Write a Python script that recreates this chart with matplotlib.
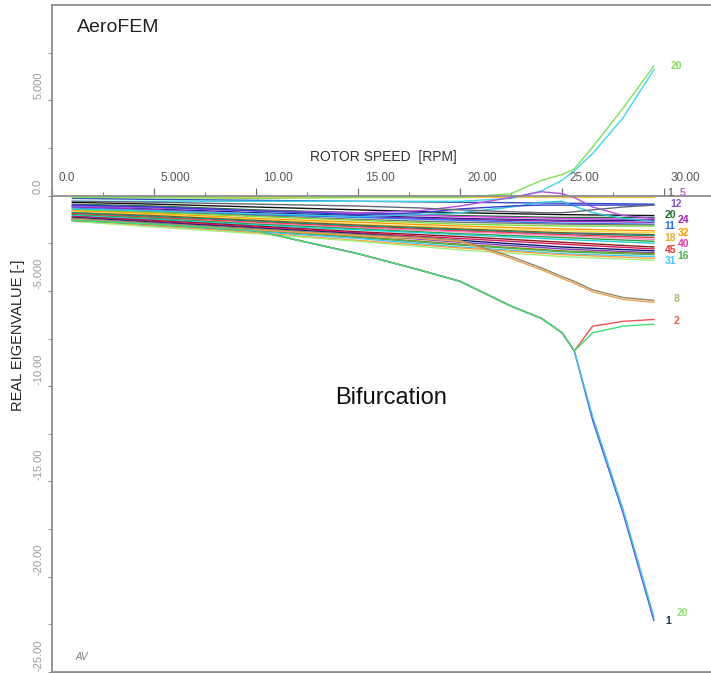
import numpy as np
import matplotlib
matplotlib.use('Agg')
import matplotlib.pyplot as plt

plt.rcParams['font.family'] = 'Liberation Sans'

# rotor speed grid for the bulk of the modes
speed = [1.0, 5.0, 10.0, 15.0, 20.0, 25.0, 29.5]

# bulk modes (real eigenvalue)
bulk = [
    [-0.05, -0.05, -0.05, -0.05, -0.05, -0.05, -0.05],
    [-0.15, -0.2, -0.25, -0.3, -0.35, -0.4, -0.45],
    [-0.35, -0.45, -0.6, -0.75, -0.9, -1.0, -1.05],
    [-0.45, -0.55, -0.75, -0.9, -1.05, -1.15, -1.15],
    [-0.5, -0.6, -0.8, -0.95, -1.1, -1.2, -1.25],
    [-0.55, -0.7, -0.9, -1.05, -1.2, -1.3, -1.3],
    [-0.6, -0.75, -0.95, -1.1, -1.25, -1.35, -1.4],
    [-0.65, -0.8, -1.0, -1.15, -1.3, -1.45, -1.5],
    [-0.7, -0.85, -1.05, -1.25, -1.4, -1.5, -1.55],
    [-0.75, -0.9, -1.1, -1.3, -1.5, -1.6, -1.6],
    [-0.8, -0.95, -1.2, -1.4, -1.6, -1.75, -1.85],
    [-0.85, -1.0, -1.25, -1.5, -1.7, -1.85, -1.95],
    [-0.9, -1.05, -1.3, -1.55, -1.75, -1.95, -2.05],
    [-0.9, -1.1, -1.35, -1.6, -1.8, -2.0, -2.1],
    [-0.95, -1.15, -1.4, -1.65, -1.85, -2.05, -2.2],
    [-1.0, -1.2, -1.45, -1.7, -1.9, -2.1, -2.3],
    [-1.0, -1.2, -1.5, -1.75, -2.0, -2.2, -2.4],
    [-1.05, -1.25, -1.55, -1.8, -2.05, -2.3, -2.5],
    [-1.1, -1.3, -1.6, -1.9, -2.15, -2.45, -2.7],
    [-1.1, -1.35, -1.65, -1.95, -2.25, -2.55, -2.8],
    [-1.15, -1.4, -1.7, -2.0, -2.35, -2.7, -2.9],
    [-1.2, -1.45, -1.75, -2.05, -2.45, -2.8, -3.0],
    [-1.2, -1.5, -1.8, -2.15, -2.55, -2.9, -3.05],
    [-1.25, -1.55, -1.85, -2.2, -2.6, -2.95, -3.1],
    [-1.3, -1.6, -1.9, -2.25, -2.7, -3.05, -3.2],
    [-1.3, -1.6, -1.95, -2.35, -2.75, -3.1, -3.3],
    [-1.35, -1.65, -2.0, -2.4, -2.85, -3.2, -3.4],
]
bulk_colors = ['#f5c842', '#3050c0', '#111111', '#1d6b2a', '#e040e0', '#1a237e',
               '#9c27b0', '#2f6fff', '#777777', '#7ddf3f', '#ff9800', '#f2e24a',
               '#8d5524', '#009688', '#e53935', '#ff80c0', '#2e9e3e', '#20d0e0',
               '#8b1a1a', '#d81b60', '#0d1b6e', '#7b3fbf', '#8a8a1a', '#4caf50',
               '#40c4ff', '#ffa040', '#a0f080']

# special modes on a finer speed grid
speed_fine = [1.0, 5.0, 10.0, 15.0, 18.0, 20.0, 22.5, 24.0, 25.0, 25.6, 26.5, 28.0, 29.5]
rise_a = [-0.1, -0.1, -0.15, -0.1, -0.1, -0.1, 0.1, 0.8, 1.1, 1.4, 2.55, 4.6, 6.8]
rise_b = [-0.3, -0.3, -0.3, -0.3, -0.3, -0.3, -0.15, 0.25, 0.8, 1.3, 2.2, 4.1, 6.6]
bump_purple = [-0.55, -0.65, -0.8, -0.9, -0.8, -0.55, -0.1, 0.2, 0.1, -0.1, -0.6, -1.05, -1.2]
bump_cyan = [-0.7, -0.8, -0.95, -1.1, -1.0, -0.9, -0.6, -0.35, -0.3, -0.55, -0.9, -1.2, -1.35]
flat_blue = [-0.5, -0.6, -0.8, -1.0, -0.9, -0.7, -0.55, -0.5, -0.5, -0.5, -0.5, -0.5, -0.5]
mode_12 = [-0.3, -0.35, -0.45, -0.55, -0.65, -0.75, -0.85, -0.9, -0.9, -0.85, -0.75, -0.6, -0.5]
mode_8a = [-1.2, -1.45, -1.75, -2.05, -2.2, -2.35, -3.2, -3.8, -4.25, -4.5, -4.95, -5.35, -5.5]
mode_8b = [-1.25, -1.5, -1.8, -2.1, -2.25, -2.4, -3.3, -3.9, -4.35, -4.6, -5.05, -5.45, -5.6]
bif_down1 = [-1.3, -1.5, -1.85, -3.05, -3.9, -4.5, -5.8, -6.45, -7.2, -8.15, -11.8, -16.7, -22.3]
bif_down2 = [-1.3, -1.5, -1.85, -3.05, -3.9, -4.5, -5.8, -6.45, -7.2, -8.15, -11.6, -16.5, -22.1]
bif_up_red = [-1.3, -1.5, -1.85, -3.05, -3.9, -4.5, -5.8, -6.45, -7.2, -8.15, -6.85, -6.6, -6.5]
bif_up_green = [-1.3, -1.5, -1.85, -3.05, -3.9, -4.5, -5.8, -6.45, -7.2, -8.15, -7.2, -6.85, -6.75]

special = [rise_a, rise_b, bump_purple, bump_cyan, flat_blue, mode_12,
           mode_8a, mode_8b, bif_down1, bif_down2, bif_up_red, bif_up_green]
special_colors = ['#7ee05a', '#40d8e8', '#b050e0', '#30c8e0', '#3040d0', '#666677',
                  '#8a8a6a', '#f0a050', '#4a5ad0', '#40c0f0', '#f05050', '#40e070']

# mode numbers written at the end of the curves (two staggered columns)
tag_text = ['20', '1', '5', '12', '20', '24', '11', '32', '18', '40', '45', '16', '31',
            '8', '2', '1', '20']
tag_speed = [30.6, 30.3, 30.9, 30.6, 30.3, 30.95, 30.3, 30.95, 30.3, 30.95, 30.3, 30.95, 30.3,
             30.6, 30.6, 30.2, 30.9]
tag_value = [6.8, 0.15, 0.15, -0.45, -1.0, -1.3, -1.6, -1.95, -2.25, -2.55, -2.85, -3.15, -3.45,
             -5.45, -6.6, -22.3, -21.9]
tag_color = ['#7ee05a', '#777777', '#c060e0', '#8050d0', '#1d6b2a', '#9c27b0', '#2f6fff',
             '#ff9800', '#e0b030', '#e040a0', '#e53935', '#4caf50', '#40c4ff',
             '#b0b070', '#f06040', '#203050', '#90e070']

xticks = [0, 5, 10, 15, 20, 25, 30]
xtick_labels = ['0.0', '5.000', '10.00', '15.00', '20.00', '25.00', '30.00']
yticks = [5, 0, -5, -10, -15, -20, -25]
ytick_labels = ['5.000', '0.0', '-5.000', '-10.00', '-15.00', '-20.00', '-25.00']

fig = plt.figure(figsize=(7.11, 6.73), dpi=100)
ax = fig.add_axes([52 / 711, 1 / 673, 659 / 711, 667 / 673])

for vals, c in zip(bulk, bulk_colors):
    ax.plot(speed, vals, color=c, lw=1.0)
for vals, c in zip(special, special_colors):
    ax.plot(speed_fine, vals, color=c, lw=1.0)

for t, s, v, c in zip(tag_text, tag_speed, tag_value, tag_color):
    ax.text(s, v, t, color=c, fontsize=7.5, fontweight='bold', ha='center', va='center')

ax.set_xlim(0, 32.3)
ax.set_ylim(-25, 10)

gray = '#8c8c8c'
ax.spines['right'].set_visible(False)
ax.spines['bottom'].set_position(('data', 0))
for s in ['left', 'top', 'bottom']:
    ax.spines[s].set_color(gray)
    ax.spines[s].set_linewidth(1.3)
ax.plot([0, 1], [0, 0], transform=ax.transAxes, color=gray, lw=2, clip_on=False)

ax.set_xticks(xticks)
ax.set_xticks(np.arange(2.5, 32, 5), minor=True)
ax.set_xticklabels([])
ax.tick_params(axis='x', which='major', direction='in', length=6, color='#666666')
ax.tick_params(axis='x', which='minor', direction='in', length=3, color='#666666')
for x, lbl in zip(xticks, xtick_labels):
    ax.annotate(lbl, (x, 0), xytext=(5, 13), textcoords='offset points',
                ha='left', va='center', fontsize=8.5, color='#555555')

ax.set_yticks(yticks)
ax.set_yticks(np.arange(-22.5, 10, 5), minor=True)
ax.set_yticklabels([])
ax.tick_params(axis='y', which='both', direction='out', length=3, color=gray)
for y, lbl in zip(yticks, ytick_labels):
    ax.annotate(lbl, (0, y), xycoords=ax.get_yaxis_transform(), xytext=(-10, 1),
                textcoords='offset points', rotation=90, ha='center', va='bottom',
                fontsize=8, color='#999999')

fig.text(383 / 711, 1 - 157 / 673, 'ROTOR SPEED  [RPM]', ha='center',
         va='center', fontsize=10, color='#333333')
fig.text(18 / 711, 1 - 335 / 673, 'REAL EIGENVALUE [-]', rotation=90, ha='center',
         va='center', fontsize=10.5, color='#222222')
fig.text(77 / 711, 1 - 28 / 673, 'AeroFEM', ha='left', va='center', fontsize=14,
         color='#222222')
fig.text(335 / 711, 1 - 398 / 673, 'Bifurcation', ha='left', va='center', fontsize=17,
         color='#111111')
fig.text(75 / 711, 1 - 657 / 673, 'AV', ha='left', va='center', fontsize=7,
         style='italic', color='#777777')

fig.savefig('out.png', dpi=100)
